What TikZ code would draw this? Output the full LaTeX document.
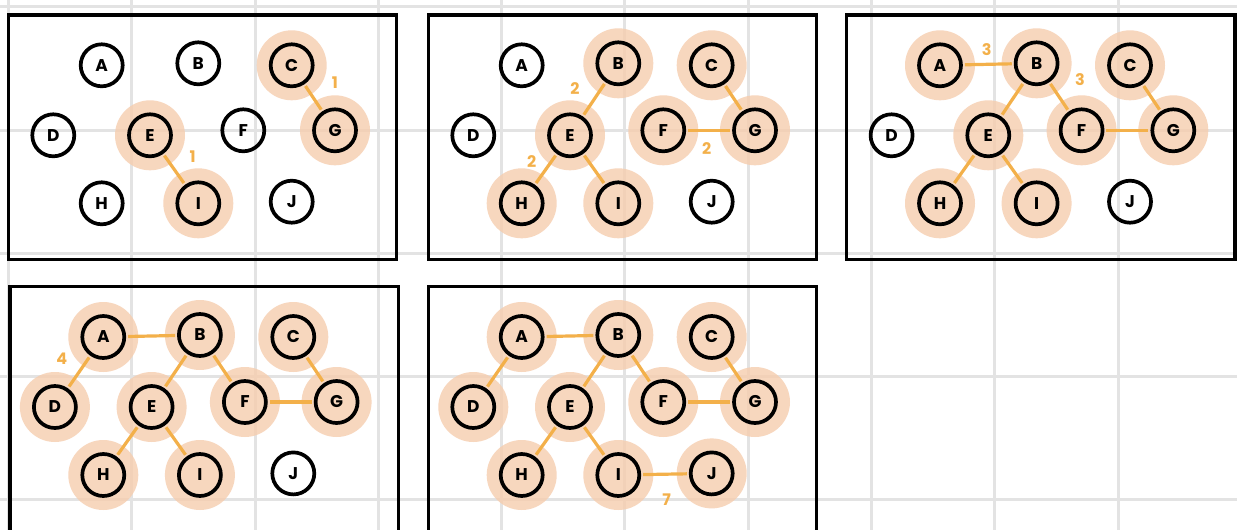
\documentclass[tikz,border=0pt]{standalone}
\usepackage{fontspec}
\setmainfont{Poppins}
\pgfdeclarelayer{gridlayer}
\pgfdeclarelayer{hllayer}
\pgfdeclarelayer{edgelayer}
\pgfsetlayers{gridlayer,hllayer,edgelayer,main}
\definecolor{gridgray}{HTML}{E3E3E3}
\definecolor{peach}{HTML}{F6CDAE}
\definecolor{orangeedge}{HTML}{F3B04A}
\tikzset{
  vert/.style={circle, draw=black, line width=3.7pt, minimum size=42pt, inner sep=0pt,
    font=\fontsize{17}{17}\selectfont\bfseries},
  edgeline/.style={draw=orangeedge, line width=3.2pt, shorten <=2pt, shorten >=2pt},
  hl/.style={fill=peach, fill opacity=0.8},
  wlabel/.style={text=orangeedge, inner sep=0pt, font=\fontsize{16}{16}\selectfont\bfseries},
  frame/.style={draw=black, line width=3.4pt, minimum width=388.3pt, minimum height=244.7pt,
    inner sep=0pt, anchor=north west},
  gridline/.style={draw=gridgray, line width=3pt},
}
\newcommand\mkpanel[1]{%
  \node[frame] (#1box) at (0,0) {};
  \node[vert] (#1A) at (95,52) {A};
  \node[vert] (#1B) at (191.6,50) {B};
  \node[vert] (#1C) at (285,52) {C};
  \node[vert] (#1D) at (46.6,122) {D};
  \node[vert] (#1E) at (143.3,122) {E};
  \node[vert] (#1F) at (236.6,117) {F};
  \node[vert] (#1G) at (328.3,117) {G};
  \node[vert] (#1H) at (95,190) {H};
  \node[vert] (#1I) at (191.6,190) {I};
  \node[vert] (#1J) at (285,188.4) {J};
}
\begin{document}
\begin{tikzpicture}[x=1pt,y=-1pt]
\useasboundingbox (0,0) rectangle (1237,530);
\begin{pgfonlayer}{gridlayer}
  \fill[white] (0,0) rectangle (1237,530);
  \foreach \k in {0,...,9} \draw[gridline] (8.4+123.3*\k,0) -- (8.4+123.3*\k,530);
  \foreach \k in {0,...,4} \draw[gridline] (0,6.7+123.3*\k) -- (1237,6.7+123.3*\k);
\end{pgfonlayer}

% Panel 1
\begin{scope}[shift={(6.7,13.3)}]
  \mkpanel{p1}
  \begin{pgfonlayer}{hllayer}
    \foreach \n in {C,E,G,I} \fill[hl] (p1\n) circle (35pt);
  \end{pgfonlayer}
  \begin{pgfonlayer}{edgelayer}
    \draw[edgeline] (p1C) -- (p1G);
    \draw[edgeline] (p1E) -- (p1I);
  \end{pgfonlayer}
  \node[wlabel] (p1l1) at (328.3,69.7) {1};
  \node[wlabel] (p1l2) at (186,143.4) {1};
\end{scope}

% Panel 2
\begin{scope}[shift={(426.7,13.3)}]
  \mkpanel{p2}
  \begin{pgfonlayer}{hllayer}
    \foreach \n in {B,C,E,F,G,H,I} \fill[hl] (p2\n) circle (35pt);
  \end{pgfonlayer}
  \begin{pgfonlayer}{edgelayer}
    \draw[edgeline] (p2B) -- (p2E);
    \draw[edgeline] (p2E) -- (p2H);
    \draw[edgeline] (p2E) -- (p2I);
    \draw[edgeline] (p2F) -- (p2G);
    \draw[edgeline] (p2C) -- (p2G);
  \end{pgfonlayer}
  \node[wlabel] (p2l1) at (148.3,75) {2};
  \node[wlabel] (p2l2) at (105,148.4) {2};
  \node[wlabel] (p2l3) at (280,135) {2};
\end{scope}

% Panel 3
\begin{scope}[shift={(845,13.3)}]
  \mkpanel{p3}
  \begin{pgfonlayer}{hllayer}
    \foreach \n in {A,B,C,E,F,G,H,I} \fill[hl] (p3\n) circle (35pt);
  \end{pgfonlayer}
  \begin{pgfonlayer}{edgelayer}
    \draw[edgeline] (p3A) -- (p3B);
    \draw[edgeline] (p3B) -- (p3E);
    \draw[edgeline] (p3B) -- (p3F);
    \draw[edgeline] (p3C) -- (p3G);
    \draw[edgeline] (p3F) -- (p3G);
    \draw[edgeline] (p3E) -- (p3H);
    \draw[edgeline] (p3E) -- (p3I);
  \end{pgfonlayer}
  \node[wlabel] (p3l1) at (141.7,36.7) {3};
  \node[wlabel] (p3l2) at (235,66.7) {3};
\end{scope}

% Panel 4
\begin{scope}[shift={(8.3,285)}]
  \mkpanel{p4}
  \begin{pgfonlayer}{hllayer}
    \foreach \n in {A,B,C,D,E,F,G,H,I} \fill[hl] (p4\n) circle (35pt);
  \end{pgfonlayer}
  \begin{pgfonlayer}{edgelayer}
    \draw[edgeline] (p4A) -- (p4B);
    \draw[edgeline] (p4A) -- (p4D);
    \draw[edgeline] (p4B) -- (p4E);
    \draw[edgeline] (p4B) -- (p4F);
    \draw[edgeline] (p4C) -- (p4G);
    \draw[edgeline] (p4F) -- (p4G);
    \draw[edgeline] (p4E) -- (p4H);
    \draw[edgeline] (p4E) -- (p4I);
  \end{pgfonlayer}
  \node[wlabel] (p4l1) at (53.4,73.3) {4};
\end{scope}

% Panel 5
\begin{scope}[shift={(426.7,285)}]
  \mkpanel{p5}
  \begin{pgfonlayer}{hllayer}
    \foreach \n in {A,B,C,D,E,F,G,H,I,J} \fill[hl] (p5\n) circle (35pt);
  \end{pgfonlayer}
  \begin{pgfonlayer}{edgelayer}
    \draw[edgeline] (p5A) -- (p5B);
    \draw[edgeline] (p5A) -- (p5D);
    \draw[edgeline] (p5B) -- (p5E);
    \draw[edgeline] (p5B) -- (p5F);
    \draw[edgeline] (p5C) -- (p5G);
    \draw[edgeline] (p5F) -- (p5G);
    \draw[edgeline] (p5E) -- (p5H);
    \draw[edgeline] (p5E) -- (p5I);
    \draw[edgeline] (p5I) -- (p5J);
  \end{pgfonlayer}
  \node[wlabel] (p5l1) at (240,215) {7};
\end{scope}
\end{tikzpicture}
\end{document}
